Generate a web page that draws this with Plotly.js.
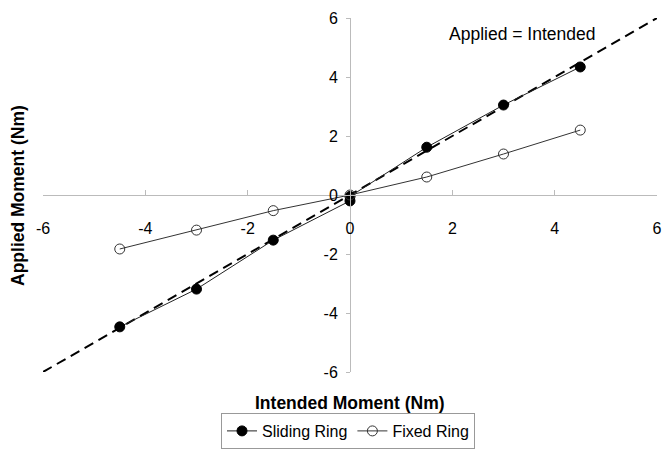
<!DOCTYPE html>
<html><head><meta charset="utf-8">
<script src="https://cdn.plot.ly/plotly-3.0.1.min.js"></script>
<style>html,body{margin:0;padding:0;background:#fff}#chart{width:664px;height:449px}</style>
</head><body><div id="chart"></div>
<script>
const slidingX = [-4.5, -3, -1.5, 0, 0, 1.5, 3, 4.5];
const slidingY = [-4.47, -3.19, -1.53, -0.2, -0.05, 1.62, 3.05, 4.34];
const fixedX = [-4.5, -3, -1.5, 0, 1.5, 3, 4.5];
const fixedY = [-1.83, -1.19, -0.53, 0.0, 0.61, 1.39, 2.2];
const identityX = [-6, 6];
const identityY = [-6, 6];
const tickVals = [-6, -4, -2, 0, 2, 4, 6];
const tickText = ['-6', '-4', '-2', '0', '2', '4', '6'];

const font = "Liberation Sans, Arial, sans-serif";
const traces = [
  {x: identityX, y: identityY, mode: 'lines', showlegend: false,
   line: {color: '#000', width: 2, dash: '10px,6px'}, hoverinfo: 'skip'},
  {x: slidingX, y: slidingY, mode: 'lines+markers', name: 'Sliding Ring',
   line: {color: '#222', width: 1}, marker: {symbol: 'circle', size: 10, color: '#000', line: {color: '#000', width: 1}}},
  {x: fixedX, y: fixedY, mode: 'lines+markers', name: 'Fixed Ring',
   line: {color: '#333', width: 1}, marker: {symbol: 'circle-open', size: 10, color: '#333', line: {width: 1}}}
];
const W = 664, H = 449, L = 43, R = 7, T = 18, B = 77;
const pw = W - L - R, ph = H - T - B;
const layout = {
  width: W, height: H,
  margin: {l: L, r: R, t: T, b: B, autoexpand: false},
  paper_bgcolor: '#fff', plot_bgcolor: '#fff',
  font: {family: font, size: 16, color: '#000'},
  xaxis: {range: [-6, 6], tickvals: tickVals, ticktext: tickText, showgrid: false, zeroline: false,
    anchor: 'free', position: 0.5, showline: true, linecolor: '#bbb', linewidth: 1,
    ticks: 'inside', ticklen: 5, tickcolor: '#bbb', ticklabelstandoff: 19,
    tickfont: {family: font, size: 16}},
  yaxis: {range: [-6, 6], tickvals: tickVals, ticktext: tickText, showgrid: false, zeroline: false,
    anchor: 'free', position: 0.5, showline: true, linecolor: '#bbb', linewidth: 1,
    ticks: 'outside', ticklen: 4, tickcolor: '#bbb', ticklabelstandoff: 5,
    tickfont: {family: font, size: 16}},
  showlegend: true,
  legend: {orientation: 'h', x: 348 / W, xanchor: 'center', xref: 'container',
    y: 0, yanchor: 'bottom', yref: 'container',
    bordercolor: '#999', borderwidth: 1, font: {family: font, size: 16},
    itemwidth: 30, tracegroupgap: 0},
  annotations: [
    {text: 'Applied = Intended', x: 3.37, y: 5.45, xref: 'x', yref: 'y', showarrow: false,
     font: {family: font, size: 17.5}},
    {text: '<b>Intended Moment (Nm)</b>', xref: 'paper', yref: 'paper',
     x: (350 - L) / pw, y: (H - B - 403) / ph, xanchor: 'center', yanchor: 'middle',
     showarrow: false, font: {family: font, size: 17.5}},
    {text: '<b>Applied Moment (Nm)</b>', xref: 'paper', yref: 'paper',
     x: (18 - L) / pw, y: (H - B - 196) / ph, xanchor: 'center', yanchor: 'middle',
     showarrow: false, textangle: -90, font: {family: font, size: 17.5}}
  ]
};
Plotly.newPlot('chart', traces, layout, {displayModeBar: false});
</script></body></html>
